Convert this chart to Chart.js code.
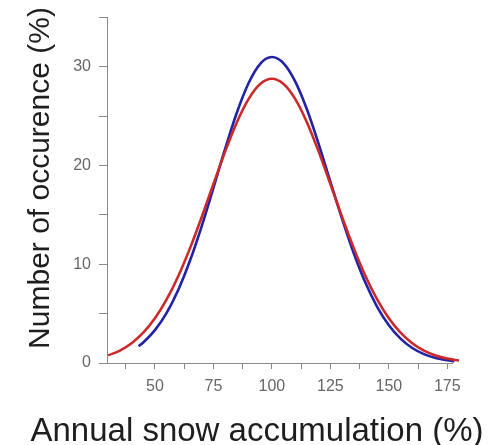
<!DOCTYPE html>
<html>
<head>
<meta charset="utf-8">
<script src="https://cdn.jsdelivr.net/npm/chart.js@4/dist/chart.umd.min.js"></script>
<style>
  html, body { margin: 0; padding: 0; background: #fff; }
  #wrap { width: 504px; height: 445px; }
</style>
</head>
<body>
<div id="wrap"><canvas id="snowChart" width="504" height="445"></canvas></div>
<script>
// values
const redX = [30, 35, 40, 45, 50, 55, 60, 65, 70, 75, 80, 85, 90, 95, 100, 105, 110, 115, 120, 125, 130, 135, 140, 145, 150, 155, 160, 165, 170, 175, 180];
const redY = [0.77, 1.26, 2.01, 3.07, 4.53, 6.44, 8.82, 11.64, 14.8, 18.14, 21.42, 24.38, 26.74, 28.27, 28.8, 28.27, 26.74, 24.38, 21.42, 18.14, 14.8, 11.64, 8.82, 6.44, 4.53, 3.07, 2.01, 1.26, 0.77, 0.45, 0.25];
const blueX = [43, 45, 50, 55, 60, 65, 70, 75, 80, 85, 90, 95, 100, 105, 110, 115, 120, 125, 130, 135, 140, 145, 150, 155, 160, 165, 170, 175, 178];
const blueY = [1.7, 2.08, 3.33, 5.08, 7.43, 10.38, 13.88, 17.74, 21.69, 25.36, 28.35, 30.32, 31.0, 30.36, 28.51, 25.68, 22.18, 18.37, 14.6, 11.12, 8.13, 5.69, 3.83, 2.47, 1.52, 0.9, 0.51, 0.28, 0.19];
const xTickValues = [37.5, 50, 62.5, 75, 87.5, 100, 112.5, 125, 137.5, 150, 162.5, 175];
const xLabelValues = [50, 75, 100, 125, 150, 175];
const yTickValues = [0, 5, 10, 15, 20, 25, 30, 35];
const yLabelValues = [0, 10, 20, 30];
const xTitle = 'Annual snow accumulation (%)';
const yTitle = 'Number of occurence (%)';

(function() {
    'use strict';
    const toPoints = (xs, ys) => xs.map((x, i) => ({ x: x, y: ys[i] }));
    const axisGrey = '#8a8a8a';
    const labelGrey = '#666';
    const fontFamily = 'Liberation Sans, Arial, sans-serif';

    // axis titles are wider than the plot, so they are painted by hand
    const axisTitles = {
        id: 'axisTitles',
        afterDraw(chart) {
            const c = chart.ctx;
            c.save();
            c.fillStyle = '#1e1e1e';
            c.textAlign = 'center';
            c.textBaseline = 'middle';
            c.font = '33px ' + fontFamily;
            c.fillText(xTitle, 257, 432);
            c.translate(41, 178);
            c.rotate(-Math.PI / 2);
            c.font = '30px ' + fontFamily;
            c.fillText(yTitle, 0, 0);
            c.restore();
        }
    };

    const ctx = document.getElementById('snowChart').getContext('2d');
    new Chart(ctx, {
        type: 'line',
        data: {
            datasets: [{
                label: 'red',
                data: toPoints(redX, redY),
                borderColor: '#cc2a2a',
                borderWidth: 2.6,
                pointRadius: 0,
                cubicInterpolationMode: 'monotone',
                clip: false
            }, {
                label: 'blue',
                data: toPoints(blueX, blueY),
                borderColor: '#2222a6',
                borderWidth: 2.6,
                pointRadius: 0,
                cubicInterpolationMode: 'monotone',
                clip: false
            }]
        },
        options: {
            responsive: false,
            animation: false,
            layout: { padding: { top: 12, right: 52, left: 0, bottom: 0 } },
            plugins: { legend: { display: false }, tooltip: { enabled: false } },
            scales: {
                x: {
                    type: 'linear',
                    min: 29.5,
                    max: 177,
                    afterBuildTicks: s => { s.ticks = xTickValues.map(v => ({ value: v })); },
                    afterFit: s => { s.height = 82; },
                    border: { display: true, color: axisGrey, width: 1 },
                    grid: { drawOnChartArea: false, drawTicks: true, tickLength: 6, color: axisGrey },
                    ticks: {
                        autoSkip: false,
                        maxRotation: 0,
                        padding: 8,
                        color: labelGrey,
                        font: { family: fontFamily, size: 16 },
                        callback: v => xLabelValues.includes(v) ? String(v) : ''
                    }
                },
                y: {
                    type: 'linear',
                    min: 0,
                    max: 35,
                    afterBuildTicks: s => { s.ticks = yTickValues.map(v => ({ value: v })); },
                    afterFit: s => { s.width = 107; },
                    border: { display: true, color: axisGrey, width: 1 },
                    grid: { drawOnChartArea: false, drawTicks: true, tickLength: 8, color: axisGrey },
                    ticks: {
                        autoSkip: false,
                        padding: 8,
                        color: labelGrey,
                        font: { family: fontFamily, size: 16 },
                        callback: v => yLabelValues.includes(v) ? String(v) : ''
                    }
                }
            }
        },
        plugins: [axisTitles]
    });
})();
</script>
</body>
</html>
